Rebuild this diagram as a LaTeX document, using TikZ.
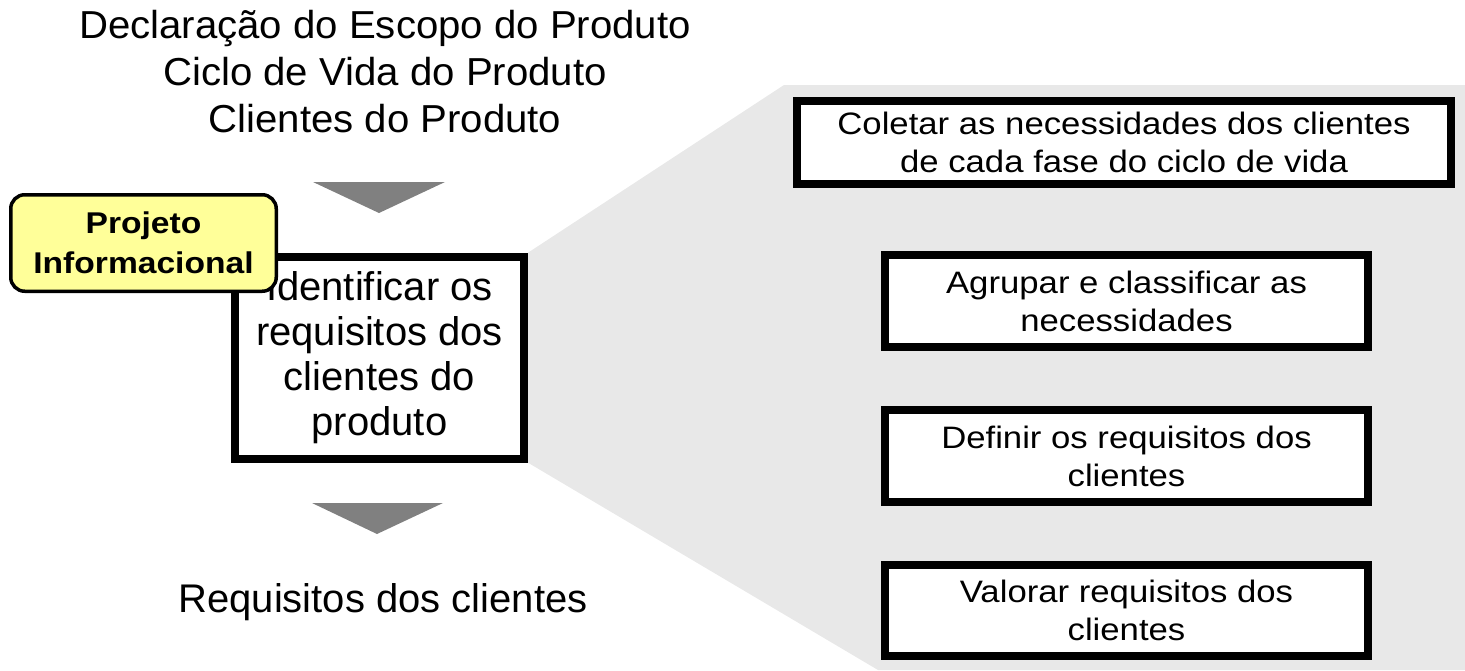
\documentclass[tikz,border=0pt]{standalone}
\usepackage{fontspec}
\setmainfont{Liberation Sans}
\newfontfamily\widesans[FakeStretch=1.12]{Liberation Sans}
\newfontfamily\headsans[FakeStretch=1.03]{Liberation Sans}
\usetikzlibrary{backgrounds}
\definecolor{panel}{HTML}{E8E8E8}
\definecolor{arrowgray}{HTML}{808080}
\definecolor{tagyellow}{HTML}{FFFF99}
\tikzset{
  bigtext/.style={font=\headsans\fontsize{39}{47}\selectfont, align=center, inner sep=0pt},
  mainbox/.style={draw=black, line width=8pt, fill=white, align=center, font=\fontsize{40}{45}\selectfont, inner sep=0pt},
  subbox/.style={draw=black, line width=8pt, fill=white, align=center, font=\widesans\fontsize{31}{38}\selectfont, inner sep=0pt},
  tagbox/.style={draw=black, line width=3.5pt, fill=tagyellow, rounded corners=14pt, align=center, font=\widesans\bfseries\fontsize{30}{40}\selectfont, inner sep=0pt},
  pointer/.style={fill=arrowgray},
}
\begin{document}
\begin{tikzpicture}[x=1pt,y=-1pt]
\useasboundingbox (0,0) rectangle (1465,670);
\node[mainbox, minimum width=289pt, minimum height=202pt] (main) at (379.5,357.7)
  {Identificar os\\requisitos dos\\clientes do\\produto};
\coordinate (ptop) at (784,85);
\coordinate (pbot) at (878,670);
\begin{scope}[on background layer]
\fill[panel] (main.north east) -- (ptop) -- (1465,85) -- (1465,670) -- (pbot) -- (main.south east) -- cycle;
\end{scope}
\node[subbox, minimum width=654pt, minimum height=83.5pt] (s1) at (1124,142.25)
  {Coletar as necessidades dos clientes\\de cada fase do ciclo de vida};
\node[subbox, minimum width=483pt, minimum height=92pt] (s2) at (1126.5,301)
  {Agrupar e classificar as\\necessidades};
\node[subbox, minimum width=483pt, minimum height=92pt] (s3) at (1126.5,456)
  {Definir os requisitos dos\\clientes};
\node[subbox, minimum width=483pt, minimum height=91pt] (s4) at (1126.5,610.5)
  {Valorar requisitos dos\\clientes};
\node[bigtext, anchor=south] (inputs) at (385,133)
  {Declaração do Escopo do Produto\\Ciclo de Vida do Produto\\Clientes do Produto};
\node[bigtext, font=\fontsize{40}{45}\selectfont, anchor=base] (output) at (383,612) {Requisitos dos clientes};
\node[tagbox, minimum width=265.5pt, minimum height=96.5pt] (tag) at (143.5,243)
  {Projeto\\Informacional};
\fill[pointer] (313,182) -- (445,182) -- (379,213) -- cycle;
\fill[pointer] (312,503) -- (443,503) -- (377,534) -- cycle;
\end{tikzpicture}
\end{document}
